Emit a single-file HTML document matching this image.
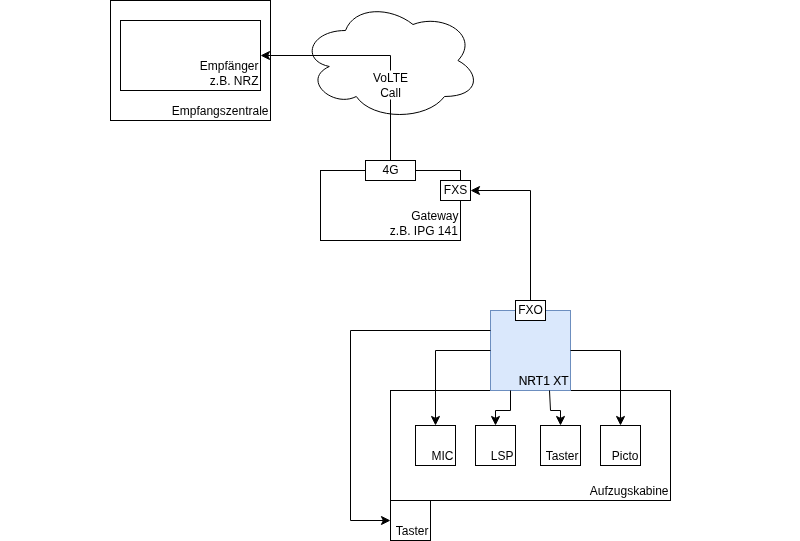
<!DOCTYPE html>
<html lang="de">
<head>
<meta charset="utf-8">
<title>Diagramm</title>
<style>
html,body{margin:0;padding:0;background:#fff;}
body{width:800px;height:541px;overflow:hidden;}
svg{display:block;will-change:transform;}
text{transform:translate(0px,-0.5px);font-family:"Liberation Sans",Helvetica,Arial,sans-serif;font-size:12px;fill:#000;}
.r{text-anchor:end;}
.c{text-anchor:middle;}
.b{fill:#fff;stroke:#000;stroke-width:1;}
.n{fill:none;stroke:#000;stroke-width:1;}
.l{fill:none;stroke:#000;stroke-width:1;stroke-miterlimit:10;}
.a{fill:#000;stroke:#000;stroke-width:1;stroke-miterlimit:10;}
</style>
</head>
<body>
<svg width="800" height="541" viewBox="0 0 800 541">
<rect x="0" y="0" width="800" height="541" fill="#fff"/>
<g transform="translate(0.5,0.5)">
<!-- Empfangszentrale -->
<rect class="b" x="110" y="0" width="160" height="120"/>
<text class="r" x="268" y="115">Empfangszentrale</text>
<rect class="b" x="120" y="20" width="140" height="70"/>
<text class="r" x="258" y="70">Empfänger</text>
<text class="r" x="258" y="85">z.B. NRZ</text>
<!-- Cloud -->
<path class="b" d="M 345 30 C 309 30 300 60 328.8 66 C 300 79.2 332.4 108 355.8 96 C 372 120 426 120 444 96 C 480 96 480 72 457.500 60 C 480 36 444 12 412.5 24 C 390 6 354 6 345 30 Z"/>
<!-- Gateway -->
<rect class="b" x="320" y="170" width="140" height="70"/>
<text class="r" x="458" y="220">Gateway</text>
<text class="r" x="457.4" y="235">z.B. IPG 141</text>
<rect class="b" x="365" y="160" width="50" height="20"/>
<text class="c" x="390" y="174">4G</text>
<rect class="b" x="440" y="180" width="30" height="20"/>
<text class="c" x="455" y="194">FXS</text>
<!-- Aufzugskabine -->
<rect class="b" x="390" y="390" width="280" height="110"/>
<text class="r" x="668" y="495">Aufzugskabine</text>
<rect class="b" x="390" y="500" width="40" height="40"/>
<text class="r" x="428" y="535">Taster</text>
<!-- NRT1 XT -->
<rect x="490" y="310" width="80" height="80" fill="#dae8fc" stroke="#6c8ebf"/>
<text class="r" x="568" y="385" stroke="#000" stroke-width="0.15">NRT1 XT</text>
<rect class="b" x="515" y="300" width="30" height="20"/>
<text class="c" x="530" y="314">FXO</text>
<!-- inner boxes -->
<rect class="b" x="415" y="425" width="40" height="40"/>
<text class="r" x="453" y="460">MIC</text>
<rect class="b" x="475" y="425" width="40" height="40"/>
<text class="r" x="513" y="460">LSP</text>
<rect class="b" x="540" y="425" width="40" height="40"/>
<text class="r" x="578" y="460">Taster</text>
<rect class="b" x="600" y="425" width="40" height="40"/>
<text class="r" x="638" y="460">Picto</text>
<!-- edges -->
<path class="l" d="M 390 160 L 390 55 L 267.12 55"/>
<path class="a" d="M 261.12 55 L 269.12 51 L 267.12 55 L 269.12 59 Z"/>
<rect x="372" y="70" width="36" height="29" fill="#fff"/>
<text class="c" x="390" y="82">VoLTE</text>
<text class="c" x="390" y="97">Call</text>
<path class="l" d="M 530 300 L 530 190 L 477.12 190"/>
<path class="a" d="M 471.12 190 L 479.12 186 L 477.12 190 L 479.12 194 Z"/>
<path class="l" d="M 490 330 L 350 330 L 350 520 L 382.88 520"/>
<path class="a" d="M 388.88 520 L 380.88 524 L 382.88 520 L 380.88 516 Z"/>
<path class="l" d="M 490 350 L 435 350 L 435 417.88"/>
<path class="a" d="M 435 423.88 L 431 415.88 L 435 417.88 L 439 415.88 Z"/>
<path class="l" d="M 510 390 L 510 410 L 495 410 L 495 417.88"/>
<path class="a" d="M 495 423.88 L 491 415.88 L 495 417.88 L 499 415.88 Z"/>
<path class="l" d="M 549 390 L 550 410 L 560 410 L 560 417.88"/>
<path class="a" d="M 560 423.88 L 556 415.88 L 560 417.88 L 564 415.88 Z"/>
<path class="l" d="M 570 350 L 620 350 L 620 417.88"/>
<path class="a" d="M 620 423.88 L 616 415.88 L 620 417.88 L 624 415.88 Z"/>
</g>
</svg>
</body>
</html>
